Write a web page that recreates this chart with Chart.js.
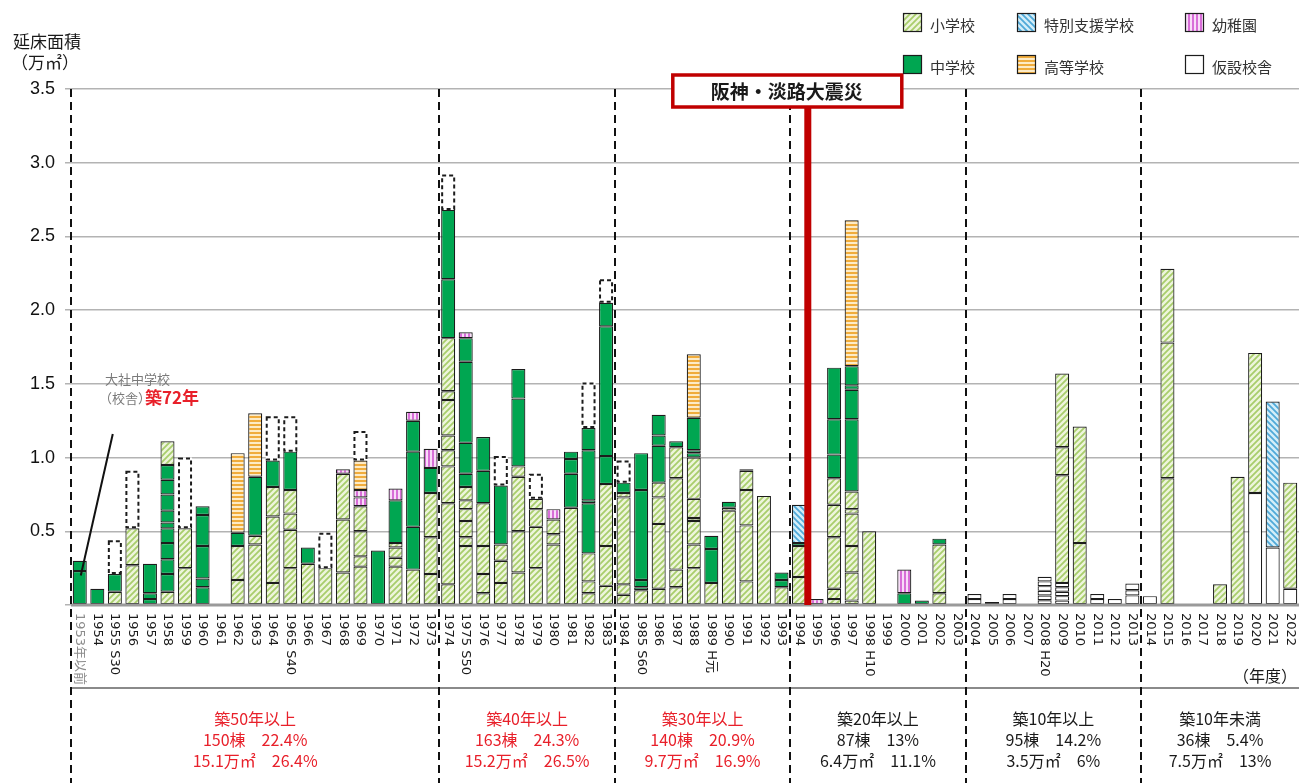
<!DOCTYPE html>
<html lang="ja">
<head>
<meta charset="utf-8">
<script src="https://cdn.jsdelivr.net/npm/chart.js@4.4.1/dist/chart.umd.min.js"></script>
<style>
  html, body { margin: 0; padding: 0; background: #fff; }
  #wrap { width: 1299px; height: 783px; }
</style>
</head>
<body>
<div id="wrap"><canvas id="chart" width="1299" height="783"></canvas></div>
<script>
// years shown on the x axis
const years = [];
for (let y = 1953; y <= 2022; y++) years.push(y);
const eraTags = { 1955: 'S30', 1965: 'S40', 1975: 'S50', 1985: 'S60', 1989: 'H元', 1998: 'H10', 2008: 'H20' };
const tickLabels = years.map(y => y === 1953 ? '1953年以前' : (eraTags[y] ? y + ' ' + eraTags[y] : String(y)));

// segment stacks per year, bottom to top: [type, 万㎡]
// E 小学校, J 中学校, S 特別支援学校, H 高等学校, K 幼稚園, T 仮設校舎, D 破線枠
const built50 = [ // 1953-1973
  [['J',0.23],['J',0.07]],
  [['J',0.11]],
  [['E',0.09],['J',0.12],['D',0.23]],
  [['E',0.27],['E',0.25],['D',0.39]],
  [['J',0.04],['J',0.04],['J',0.20]],
  [['E',0.09],['J',0.12],['J',0.10],['J',0.11],['J',0.10],['J',0.04],['J',0.08],['J',0.11],['J',0.10],['J',0.10],['E',0.16]],
  [['E',0.25],['E',0.27],['D',0.48]],
  [['J',0.12],['J',0.06],['J',0.22],['J',0.21],['J',0.06]],
  [],
  [['E',0.17],['E',0.23],['J',0.09],['H',0.54]],
  [['E',0.41],['E',0.06],['J',0.40],['H',0.43]],
  [['E',0.15],['E',0.45],['E',0.20],['J',0.18],['D',0.30]],
  [['E',0.25],['E',0.26],['E',0.11],['E',0.16],['J',0.26],['D',0.24]],
  [['E',0.28],['J',0.11]],
  [['E',0.25],['D',0.24]],
  [['E',0.22],['E',0.36],['E',0.31],['K',0.03]],
  [['E',0.26],['E',0.07],['E',0.17],['E',0.17],['K',0.06],['K',0.05],['H',0.20],['D',0.20]],
  [['J',0.37]],
  [['E',0.26],['E',0.06],['E',0.07],['E',0.03],['J',0.29],['K',0.08]],
  [['E',0.24],['J',0.29],['J',0.51],['J',0.21],['K',0.06]],
  [['E',0.21],['E',0.25],['E',0.30],['J',0.17],['K',0.13]]
];
const built40 = [ // 1974-1983
  [['E',0.14],['E',0.55],['E',0.25],['E',0.11],['E',0.10],['E',0.24],['E',0.06],['E',0.36],['J',0.40],['J',0.47],['D',0.24]],
  [['E',0.40],['E',0.06],['E',0.11],['E',0.08],['E',0.06],['E',0.09],['J',0.09],['J',0.21],['J',0.55],['J',0.16],['K',0.04]],
  [['E',0.08],['E',0.13],['E',0.19],['E',0.29],['J',0.22],['J',0.23]],
  [['E',0.15],['E',0.15],['E',0.11],['J',0.40],['D',0.20]],
  [['E',0.22],['E',0.28],['E',0.37],['E',0.07],['J',0.46],['J',0.20]],
  [['E',0.25],['E',0.28],['E',0.12],['E',0.07],['D',0.17]],
  [['E',0.41],['E',0.07],['E',0.10],['K',0.07]],
  [['E',0.66],['J',0.23],['J',0.10],['J',0.05]],
  [['E',0.08],['E',0.08],['E',0.19],['J',0.34],['J',0.02],['J',0.34],['J',0.15],['D',0.31]],
  [['E',0.13],['E',0.27],['E',0.42],['J',0.19],['J',0.88],['J',0.16],['D',0.16]]
];
const built30 = [ // 1984-1993
  [['E',0.07],['E',0.07],['E',0.59],['E',0.03],['J',0.07],['D',0.15]],
  [['E',0.10],['J',0.02],['J',0.05],['J',0.61],['J',0.25]],
  [['E',0.11],['E',0.44],['E',0.18],['E',0.10],['J',0.25],['J',0.07],['J',0.14]],
  [['E',0.12],['E',0.12],['E',0.62],['E',0.21],['J',0.04]],
  [['E',0.25],['E',0.16],['E',0.16],['E',0.02],['E',0.13],['E',0.28],['J',0.03],['J',0.02],['J',0.22],['H',0.43]],
  [['E',0.15],['J',0.23],['J',0.09]],
  [['E',0.64],['E',0.02],['J',0.04]],
  [['E',0.16],['E',0.38],['E',0.24],['E',0.13],['J',0.01]],
  [['E',0.74]],
  [['E',0.12],['J',0.05],['J',0.05]]
];
const built20 = [ // 1994-2003
  [['E',0.19],['E',0.21],['J',0.02],['S',0.26]],
  [['K',0.04]],
  [['E',0.04],['E',0.07],['E',0.35],['E',0.22],['E',0.18],['J',0.16],['J',0.24],['J',0.35]],
  [['E',0.03],['E',0.19],['E',0.18],['E',0.22],['E',0.03],['E',0.12],['J',0.49],['J',0.20],['J',0.03],['J',0.13],['H',0.99]],
  [['E',0.50]],
  [],
  [['J',0.08],['K',0.16]],
  [['J',0.03]],
  [['E',0.08],['E',0.33],['J',0.04]],
  []
];
const built10 = [ // 2004-2013
  [['T',0.04],['T',0.035]],
  [['T',0.02]],
  [['T',0.04],['T',0.035]],
  [],
  [['T',0.032],['T',0.032],['T',0.032],['T',0.032],['T',0.032],['T',0.032]],
  [['T',0.03],['T',0.03],['T',0.03],['T',0.03],['T',0.03],['E',0.73],['E',0.19],['E',0.50]],
  [['E',0.42],['E',0.79]],
  [['T',0.04],['T',0.035]],
  [['T',0.04]],
  [['T',0.065],['T',0.035],['T',0.045]]
];
const builtUnder10 = [ // 2014-2022
  [['T',0.06]],
  [['E',0.86],['E',0.92],['E',0.50]],
  [],
  [],
  [['E',0.14]],
  [['E',0.87]],
  [['T',0.76],['E',0.95]],
  [['T',0.39],['S',0.99]],
  [['T',0.11],['E',0.72]]
];

const groupStarts = [0, 21, 31, 41, 51, 61];
const groupTexts = [
  ['築50年以上', '150棟　22.4%', '15.1万㎡　26.4%'],
  ['築40年以上', '163棟　24.3%', '15.2万㎡　26.5%'],
  ['築30年以上', '140棟　20.9%', '9.7万㎡　16.9%'],
  ['築20年以上', '87棟　13%', '6.4万㎡　11.1%'],
  ['築10年以上', '95棟　14.2%', '3.5万㎡　6%'],
  ['築10年未満', '36棟　5.4%', '7.5万㎡　13%']
];
const groupRed = [true, true, true, false, false, false];
const legendItems = [
  ['E', '小学校'], ['S', '特別支援学校'], ['K', '幼稚園'],
  ['J', '中学校'], ['H', '高等学校'], ['T', '仮設校舎']
];

function makePattern(bg, fg, kind) {
  const c = document.createElement('canvas');
  const s = (kind === 'h' || kind === 'v') ? 4 : 6;
  c.width = s; c.height = s;
  const g = c.getContext('2d');
  g.fillStyle = bg;
  g.fillRect(0, 0, s, s);
  g.fillStyle = fg;
  g.strokeStyle = fg;
  g.lineWidth = 1.8;
  if (kind === '/') {
    g.beginPath();
    g.moveTo(-1, s + 1); g.lineTo(s + 1, -1);
    g.moveTo(-1, 1); g.lineTo(1, -1);
    g.moveTo(s - 1, s + 1); g.lineTo(s + 1, s - 1);
    g.stroke();
  } else if (kind === '\\') {
    g.beginPath();
    g.moveTo(-1, -1); g.lineTo(s + 1, s + 1);
    g.moveTo(s - 1, -1); g.lineTo(s + 1, 1);
    g.moveTo(-1, s - 1); g.lineTo(1, s + 1);
    g.stroke();
  } else if (kind === 'h') {
    g.fillRect(0, 0, s, 2);
  } else if (kind === 'v') {
    g.fillRect(0, 0, 2, s);
  }
  return g.createPattern(c, 'repeat');
}

const fills = {
  E: makePattern('#eef5dc', '#a8cd6c', '/'),
  J: '#00a651',
  S: makePattern('#d3eef9', '#4fa9d8', '\\'),
  H: makePattern('#fdebc6', '#f0ac3c', 'h'),
  K: makePattern('#f8dcf8', '#d86ed8', 'v'),
  T: '#ffffff',
  D: '#ffffff'
};

const bars = [].concat(built50, built40, built30, built20, built10, builtUnder10);
const maxSeg = Math.max(...bars.map(b => b.length));
const datasets = [];
for (let k = 0; k < maxSeg; k++) {
  datasets.push({
    label: 'seg' + k,
    data: bars.map(b => b[k] ? b[k][1] : null),
    segTypes: bars.map(b => b[k] ? b[k][0] : null),
    backgroundColor: bars.map(b => b[k] ? fills[b[k][0]] : 'transparent'),
    borderColor: bars.map(b => (b[k] && b[k][0] !== 'D') ? '#1c1c1c' : 'rgba(0,0,0,0)'),
    borderWidth: bars.map(b => (b[k] && b[k][0] !== 'D') ? 1.2 : 0),
    borderSkipped: false,
    stack: 'all',
    categoryPercentage: 0.8,
    barPercentage: 1.0
  });
}

const JP = '"Noto Sans CJK JP", "Noto Sans", sans-serif';

const overlay = {
  id: 'overlay',
  afterDatasetsDraw(chart) {
    const ctx = chart.ctx;
    const xs = chart.scales.x;
    const ys = chart.scales.y;
    const area = chart.chartArea;
    const step = xs.getPixelForValue(1) - xs.getPixelForValue(0);
    const edge = i => xs.getPixelForValue(i) - step / 2;
    const base = ys.getPixelForValue(0);
    ctx.save();

    // dashed boxes
    chart.data.datasets.forEach((ds, di) => {
      const meta = chart.getDatasetMeta(di);
      meta.data.forEach((el, i) => {
        if (ds.segTypes[i] !== 'D') return;
        const p = el.getProps(['x', 'y', 'base', 'width'], true);
        ctx.setLineDash([4, 3]);
        ctx.lineWidth = 2;
        ctx.strokeStyle = '#1c1c1c';
        ctx.strokeRect(p.x - p.width / 2 + 1, Math.min(p.y, p.base) + 1, p.width - 2, Math.abs(p.base - p.y) - 2);
      });
    });
    ctx.setLineDash([]);

    // axis baseline and label box bottom line
    ctx.strokeStyle = '#9a9a9a';
    ctx.lineWidth = 3;
    ctx.beginPath(); ctx.moveTo(area.left, base); ctx.lineTo(area.right, base); ctx.stroke();
    ctx.lineWidth = 2;
    ctx.strokeStyle = '#8a8a8a';
    ctx.beginPath(); ctx.moveTo(area.left, 688); ctx.lineTo(area.right, 688); ctx.stroke();

    // group boundary dashed lines
    ctx.strokeStyle = '#111';
    ctx.lineWidth = 2;
    ctx.setLineDash([8, 5]);
    groupStarts.forEach(i => {
      const x = Math.round(edge(i));
      ctx.beginPath(); ctx.moveTo(x, area.top); ctx.lineTo(x, 783); ctx.stroke();
    });
    ctx.setLineDash([]);

    // earthquake marker
    const qx = edge(42);
    ctx.fillStyle = '#c00000';
    ctx.fillRect(qx - 3.5, 106, 7, base - 106);
    ctx.lineWidth = 3.5;
    ctx.strokeStyle = '#c00000';
    ctx.fillStyle = '#fff';
    ctx.fillRect(qx - 135, 75, 229, 32);
    ctx.strokeRect(qx - 135, 75, 229, 32);
    ctx.fillStyle = '#1a1a1a';
    ctx.font = 'bold 19px ' + JP;
    ctx.textAlign = 'center';
    ctx.textBaseline = 'middle';
    ctx.fillText('阪神・淡路大震災', qx - 21, 92);

    // x tick labels, rotated clockwise
    ctx.font = '13px "DejaVu Sans", ' + JP;
    ctx.textAlign = 'left';
    ctx.textBaseline = 'middle';
    tickLabels.forEach((t, i) => {
      ctx.save();
      ctx.translate(xs.getPixelForValue(i), 613);
      ctx.rotate(Math.PI / 2);
      ctx.fillStyle = i === 0 ? '#8c8c8c' : '#1a1a1a';
      ctx.fillText(t, 0, 0);
      ctx.restore();
    });
    ctx.font = '16px ' + JP;
    ctx.fillStyle = '#1a1a1a';
    ctx.textAlign = 'right';
    ctx.fillText('（年度）', 1297, 676);

    // age group texts
    ctx.textAlign = 'center';
    ctx.font = '16px ' + JP;
    groupStarts.forEach((s, g) => {
      const e = g + 1 < groupStarts.length ? groupStarts[g + 1] : years.length;
      const cx = (edge(s) + edge(e)) / 2;
      ctx.fillStyle = groupRed[g] ? '#e8202a' : '#1a1a1a';
      groupTexts[g].forEach((t, r) => ctx.fillText(t, cx, 719 + r * 21));
    });

    // y axis title
    ctx.fillStyle = '#1a1a1a';
    ctx.font = '17px ' + JP;
    ctx.fillText('延床面積', 47, 42);
    ctx.fillText('（万㎡）', 45, 63);

    // annotation for the oldest building
    ctx.textAlign = 'left';
    ctx.font = '13px ' + JP;
    ctx.fillStyle = '#7a7a7a';
    ctx.fillText('大社中学校', 105, 379);
    ctx.fillText('（校舎）', 99, 398);
    ctx.font = 'bold 17px ' + JP;
    ctx.fillStyle = '#e8202a';
    ctx.fillText('築72年', 145, 398);
    ctx.strokeStyle = '#111';
    ctx.lineWidth = 2;
    ctx.beginPath();
    ctx.moveTo(xs.getPixelForValue(0) + 33, ys.getPixelForValue(1.16));
    ctx.lineTo(xs.getPixelForValue(0) + 1, ys.getPixelForValue(0.2));
    ctx.stroke();

    // legend
    const cols = [903, 1017, 1185];
    const rows = [13, 55];
    ctx.font = '15px ' + JP;
    ctx.textBaseline = 'middle';
    legendItems.forEach((it, n) => {
      const x = cols[n % 3];
      const y = rows[Math.floor(n / 3)];
      ctx.fillStyle = fills[it[0]];
      ctx.fillRect(x, y, 19, 19);
      ctx.strokeStyle = '#1c1c1c';
      ctx.lineWidth = 1.2;
      ctx.strokeRect(x + 0.5, y + 0.5, 18, 18);
      ctx.fillStyle = '#333';
      ctx.fillText(it[1], x + 27, y + 12);
    });

    ctx.restore();
  }
};

new Chart(document.getElementById('chart'), {
  type: 'bar',
  data: { labels: tickLabels, datasets: datasets },
  options: {
    responsive: false,
    animation: false,
    devicePixelRatio: 1,
    layout: { padding: { top: 89, bottom: 178, left: 0, right: 0 } },
    plugins: { legend: { display: false }, tooltip: { enabled: false } },
    scales: {
      x: {
        display: false,
        stacked: true
      },
      y: {
        stacked: true,
        min: 0,
        max: 3.5,
        ticks: {
          stepSize: 0.5,
          padding: 10,
          color: '#111',
          font: { family: '"Liberation Sans", Arial, sans-serif', size: 18 },
          callback: v => v === 0 ? '' : v.toFixed(1)
        },
        grid: { color: '#b3b3b3', lineWidth: 1.5, tickLength: 6 },
        border: { display: false },
        afterFit: s => { s.width = 71; }
      }
    }
  },
  plugins: [overlay]
});
</script>
</body>
</html>
